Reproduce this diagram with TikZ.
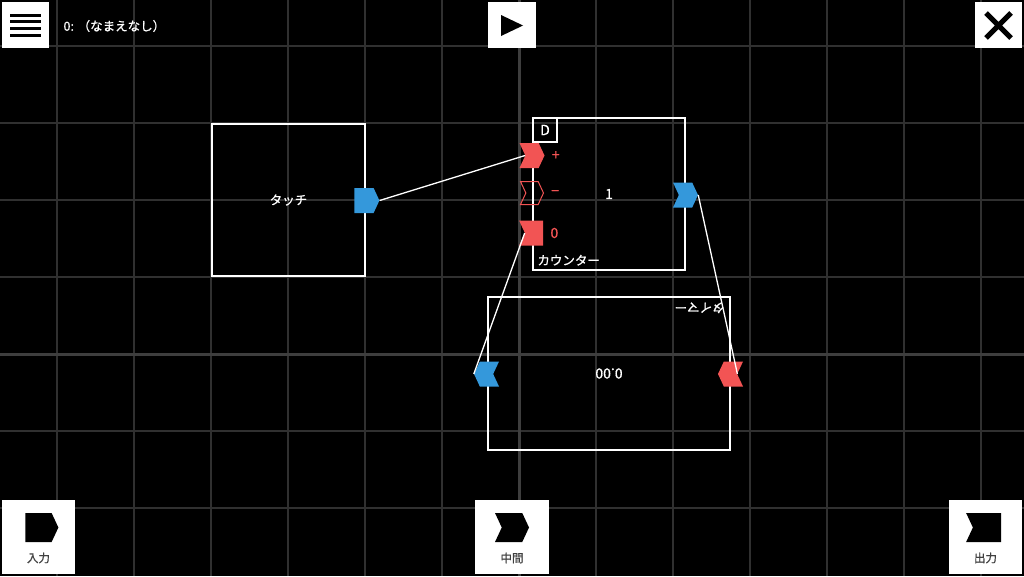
\documentclass[tikz,border=0pt]{standalone}
\usepackage{fontspec}
\setmainfont{Noto Sans CJK JP}[FakeBold=0.8]
\usetikzlibrary{positioning, shapes.symbols}

\definecolor{portblue}{RGB}{52,152,219}
\definecolor{portred}{RGB}{242,84,84}
\definecolor{gridgray}{RGB}{48,48,48}
\definecolor{axisgray}{RGB}{62,62,62}

\begin{document}
\begin{tikzpicture}[x=1pt, y=-1pt, font=\fontsize{12.5}{14}\selectfont, text=white,
    gridline/.style={draw=gridgray, line width=1.5pt},
    axisline/.style={draw=axisgray, line width=3pt},
    block/.style={draw=white, line width=1.5pt, inner sep=0pt},
    button/.style={fill=white, inner sep=0pt},
    port/.style={signal, signal pointer angle=130, inner sep=0pt, minimum width=25pt, minimum height=25pt},
    chevron/.style={port, signal to=east, signal from=west},
    portlabel/.style={text=portred, inner sep=0pt, font=\fontsize{14}{16}\selectfont},
    number/.style={font=\fontsize{14}{16}\selectfont},
    btnlabel/.style={text=black!75, font=\fontsize{11.5}{13}\selectfont},
    wire/.style={draw=white, line width=1.3pt}]

    \useasboundingbox (0,0) rectangle (1024,576);
    \fill[black] (0,0) rectangle (1024,576);
    \foreach \k in {-6,...,6} \draw[gridline] (519+77*\k,0) -- (519+77*\k,576);
    \foreach \k in {-4,...,2} \draw[gridline] (0,354+77*\k) -- (1024,354+77*\k);
    \draw[axisline] (519,0) -- (519,576);
    \draw[axisline] (0,354) -- (1024,354);

    \node[block, minimum width=153pt, minimum height=152pt] (touch) at (288.5,200) {タッチ};
    \node[port, signal to=east, fill=portblue] (touchout) at (364,200.5) {};

    \node[block, number, minimum width=152pt, minimum height=152pt] (counter) at (609,194) {1};
    \node[block, number, minimum size=24pt, anchor=north west] (dbox) at (counter.north west) {D};
    \node[chevron, fill=portred] (plus) at (532,155.5) {};
    \node[chevron, draw=portred, line width=1pt, minimum width=23pt, minimum height=23pt] (minus) at (532,193) {};
    \node[port, signal to=nowhere, signal from=west, fill=portred, minimum width=24pt] (reset) at (534,233) {};
    \node[chevron, fill=portblue] (countout) at (685.5,195) {};
    \node[portlabel, right=7pt of plus] (pluslabel) {+};
    \node[portlabel, right=7pt of minus] (minuslabel) {−};
    \node[portlabel, right=7pt of reset] (resetlabel) {0};
    \node[anchor=south west, inner sep=5pt] (countname) at (counter.south west) {カウンター};

    \node[block, number, rotate=180, minimum width=242pt, minimum height=153pt] (timer) at (609,373.5) {0.00};
    \node[rotate=180, anchor=south west, inner sep=6pt] (timername) at (timer.south west) {タイマー};
    \node[port, signal to=west, signal from=east, fill=portblue] (timerin) at (486.5,374) {};
    \node[port, signal to=west, signal from=east, fill=portred] (timerout) at (730.5,374) {};

    \draw[wire] (touchout.east) -- (plus.west);
    \draw[wire] (countout.east) -- (timerout.east);
    \draw[wire] (reset.west) -- (timerin.west);

    \node[button, minimum width=47pt, minimum height=46pt] (menu) at (25.5,25) {};
    \foreach \y in {15,21.7,28.3,35} \draw[line width=3pt] (10,\y) -- (41,\y);
    \node[anchor=west] (title) at (60,26) {0: （なまえなし）};
    \node[button, minimum width=48pt, minimum height=46pt] (play) at (512,25) {};
    \fill[black] (501,15) -- (523,25.5) -- (501,36) -- cycle;
    \node[button, minimum width=47pt, minimum height=46pt] (close) at (998.5,25) {};
    \draw[line width=5pt] (986,13) -- (1011,38) (1011,13) -- (986,38);

    \node[button, minimum width=73pt, minimum height=74pt] (inbtn) at (38.5,537) {};
    \node[port, signal to=east, fill=black, minimum width=33pt, minimum height=29pt] (inicon) at (38.5,527.5) {};
    \node[btnlabel] (inlabel) at (38.5,558) {入力};
    \node[button, minimum width=74pt, minimum height=74pt] (midbtn) at (512,537) {};
    \node[chevron, fill=black, minimum width=34pt, minimum height=29pt] (midicon) at (512,527.5) {};
    \node[btnlabel] (midlabel) at (512,558) {中間};
    \node[button, minimum width=73pt, minimum height=74pt] (outbtn) at (985.5,537) {};
    \node[port, signal to=nowhere, signal from=west, fill=black, minimum width=35pt, minimum height=29pt] (outicon) at (987,527.5) {};
    \node[btnlabel] (outlabel) at (985.5,558) {出力};
\end{tikzpicture}
\end{document}
